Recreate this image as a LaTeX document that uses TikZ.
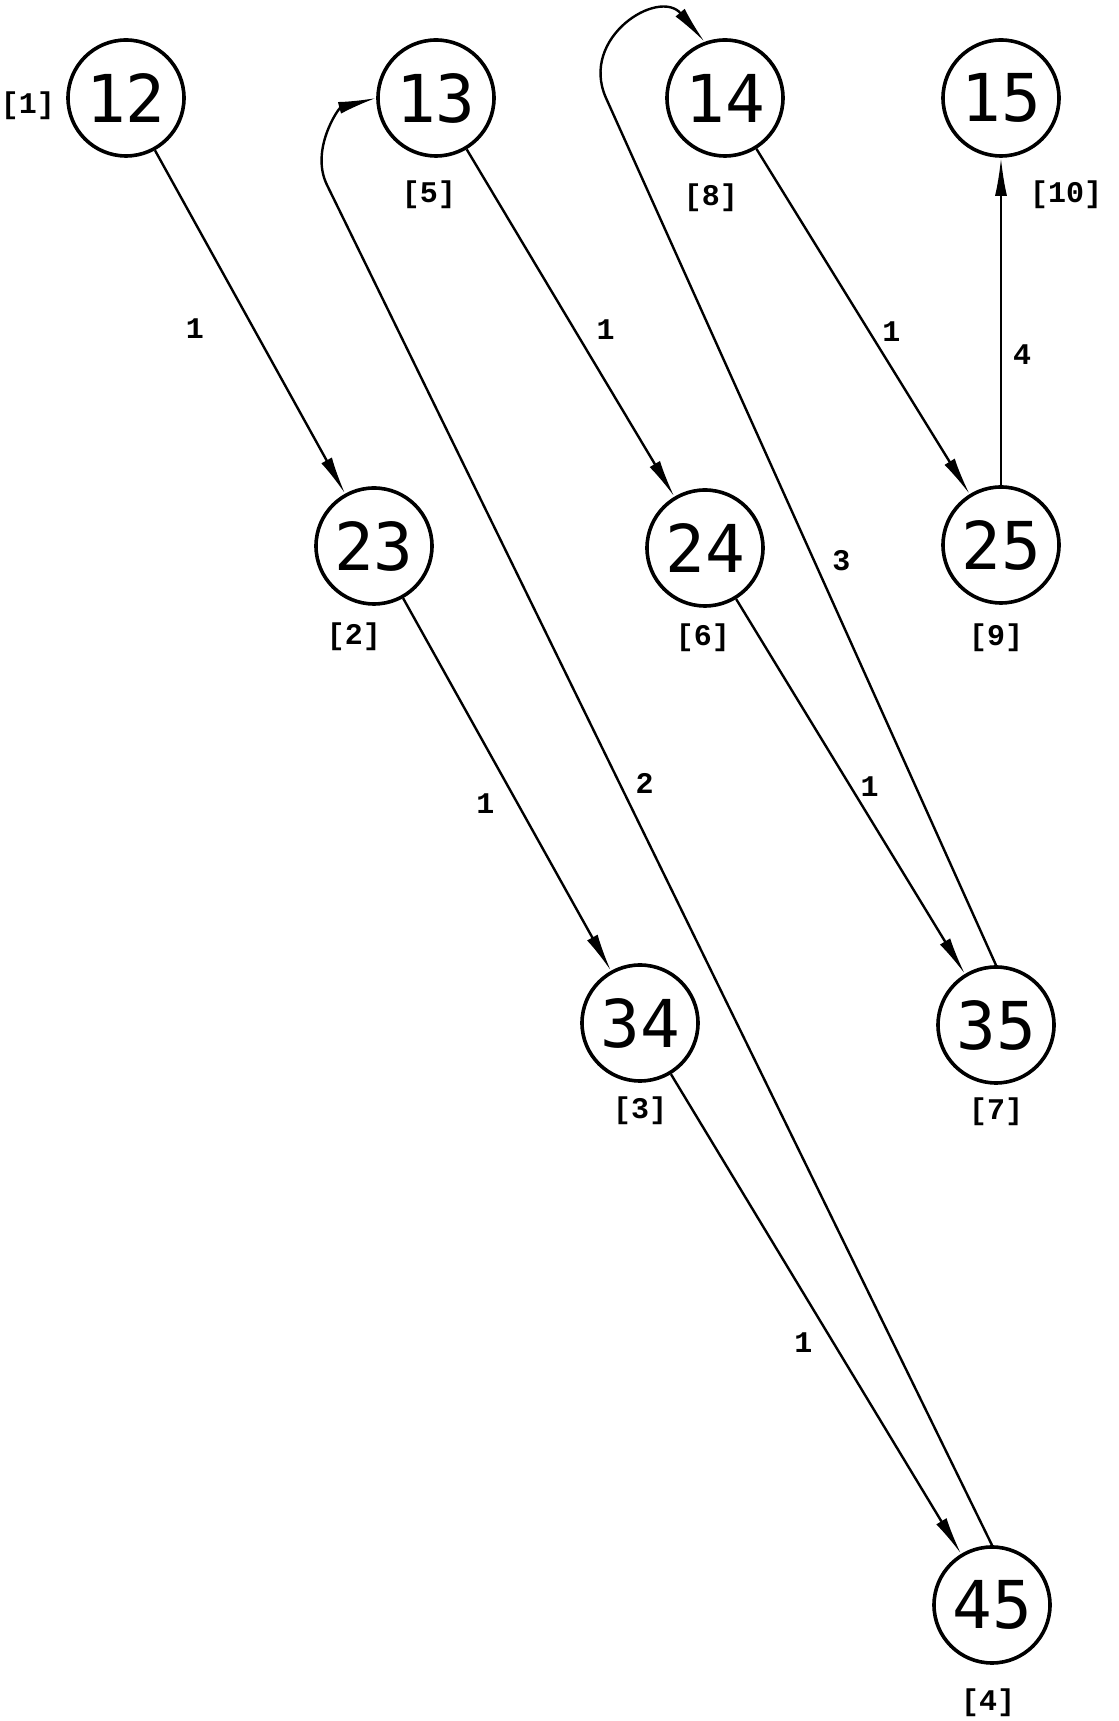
\documentclass[tikz,border=0pt]{standalone}
\usepackage{fontspec}
\usepackage{tikz}
\usetikzlibrary{positioning,arrows.meta}

\newfontfamily\pairfont{DejaVu Sans Mono}
\newfontfamily\tagfamily{Liberation Mono}

\begin{document}
\begin{tikzpicture}[%
    ->,
    >={Latex[length=19pt,width=6pt]},
    line width=1.2pt,
    on grid,
    pair/.style={%
      circle,
      minimum size=58pt,
      inner sep=0pt,
      line width=1.8pt,
      draw,
      font=\pairfont\fontsize{33}{33}\selectfont
    },
    rank/.style={%
      inner sep=0pt,
      font=\tagfamily\bfseries\fontsize{15}{15}\selectfont
    },
    weight/.style={rank}
  ]
    \useasboundingbox (0,0) rectangle (559.5pt,860.5pt);

    \node[pair] (12) at (63pt,811.5pt)                      {12};
    \node[pair] (13) [right=155pt of 12]                    {13};
    \node[pair] (14) [right=144.5pt of 13]                  {14};
    \node[pair] (15) [right=138pt of 14]                    {15};
    \node[pair] (23) [below right=224pt and 124pt of 12]    {23};
    \node[pair] (24) [below right=225pt and 134.5pt of 13]  {24};
    \node[pair] (25) [below=223.5pt of 15]                  {25};
    \node[pair] (34) [below right=238.5pt and 133pt of 23]  {34};
    \node[pair] (35) [below left=240pt and 2.5pt of 25]     {35};
    \node[pair] (45) [below left=290pt and 2pt of 35]       {45};

    \node[rank] (r1)  [below left=4pt and 49pt of 12]       {[1]};
    \node[rank] (r2)  [below left=45.5pt and 10pt of 23]    {[2]};
    \node[rank] (r3)  [below=44pt of 34]                    {[3]};
    \node[rank] (r4)  [below left=49pt and 2pt of 45]       {[4]};
    \node[rank] (r5)  [below left=48.5pt and 3.5pt of 13]   {[5]};
    \node[rank] (r6)  [below left=45pt and 1pt of 24]       {[6]};
    \node[rank] (r7)  [below=43.5pt of 35]                  {[7]};
    \node[rank] (r8)  [below left=50pt and 7pt of 14]       {[8]};
    \node[rank] (r9)  [below left=46.5pt and 2.5pt of 25]   {[9]};
    \node[rank] (r10) [below right=48.5pt and 32.5pt of 15] {[10]};

    \coordinate[below left=43.5pt and 54.5pt of 13] (turn13);
    \coordinate[left=59.5pt of 14] (turn14);

    \path (12) edge node[weight, pos=0.52, xshift=-29.5pt] {1} (23)
          (13) edge node[weight, pos=0.52, xshift=15.5pt]  {1} (24)
          (14) edge node[weight, pos=0.53, xshift=11pt]    {1} (25)
          (25) edge node[weight, pos=0.4,  xshift=10.5pt]  {4} (15)
          (23) edge node[weight, pos=0.55, xshift=-16pt]   {1} (34)
          (24) edge node[weight, pos=0.5,  xshift=9.5pt]   {1} (35)
          (34) edge node[weight, pos=0.56, xshift=-15pt]   {1} (45)
          ;

    \draw (45.north) -- node[weight, pos=0.56, xshift=12.5pt] {2} (turn13)
          to[out=116, in=195] (13.west);
    \draw (35.north) -- node[weight, pos=0.466, xshift=13.5pt] {3} (turn14)
          to[out=114, in=130, out looseness=1.5, in looseness=1.6] (14.110);
  \end{tikzpicture}
\end{document}
